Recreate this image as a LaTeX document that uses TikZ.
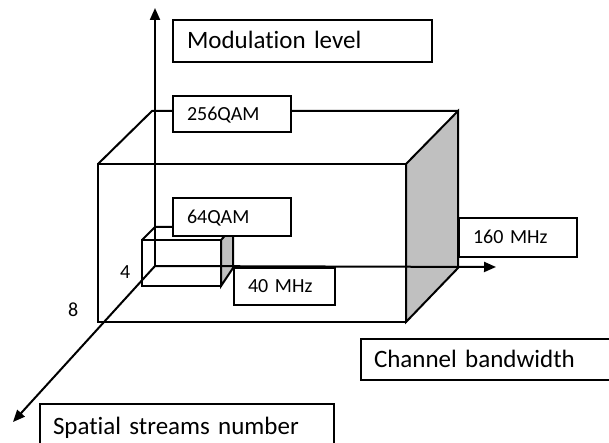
\documentclass[tikz,border=0pt]{standalone}
\usepackage{fontspec}
\setmainfont{Carlito}[Ligatures={NoCommon}]
\usetikzlibrary{arrows.meta}
\definecolor{facegray}{RGB}{192,192,192}
\begin{document}
\begin{tikzpicture}[x=1pt,y=-1pt,
  edge/.style={line width=2pt, line join=miter},
  face/.style={edge, fill=facegray},
  axis/.style={line width=2pt, -{Triangle[length=12pt,width=10pt]}},
  lbox/.style={draw, fill=white, line width=2pt, anchor=north west, inner xsep=14pt, inner ysep=0pt, align=left, text depth=0pt},
  big/.style={font=\fontsize{25}{30}\selectfont, text height=16pt},
  small/.style={font=\fontsize{20}{24}\selectfont, text height=12.5pt},
  num/.style={font=\fontsize{20}{24}\selectfont, anchor=base west, inner sep=0pt},
]
\useasboundingbox (0,0) rectangle (609,443);
\clip (0,0) rectangle (609,443);

% axes coordinates
\coordinate (O) at (155,266);
\coordinate (Ytip) at (155,8);
\coordinate (Xtip) at (496,267);
\coordinate (Ztip) at (13,422);

% big box
\draw[edge] (98,164) rectangle (406,322);
\draw[edge] (98,164) -- (152,111) -- (458,111);
\draw[face] (406,164) -- (458,111) -- (458,268) -- (406,322) -- cycle;

% small box
\draw[edge] (142,240) rectangle (221,286);
\draw[edge] (142,240) -- (155,227) -- (233,227);
\draw[face] (221,240) -- (233,227) -- (233,268) -- (221,286) -- cycle;

% axes
\draw[axis] (O) -- (Ytip);
\draw[axis] (O) -- (Xtip);
\draw[axis] (O) -- (Ztip);

% labels
\node[lbox,big,text width=231pt,minimum height=42pt] (mod) at (172,19) {Modulation level};
\node[lbox,small,text width=90pt,minimum height=36pt] (q256) at (172,95) {256QAM};
\node[lbox,small,text width=90pt,minimum height=38pt] (q64) at (172,197) {64QAM};
\node[lbox,small,text width=73pt,minimum height=37pt] (m40) at (233,267) {40 MHz};
\node[lbox,small,text width=90pt,minimum height=39pt] (m160) at (458,217) {160 MHz};
\node[lbox,big,inner xsep=13pt,text width=234pt,minimum height=41pt] (chan) at (360,338) {Channel bandwidth};
\node[lbox,big,inner xsep=13pt,text width=268pt,minimum height=44pt] (spat) at (39,403) {Spatial streams number};

\node[num] (n4) at (120,278) {4};
\node[num] (n8) at (68,316) {8};
\end{tikzpicture}
\end{document}
